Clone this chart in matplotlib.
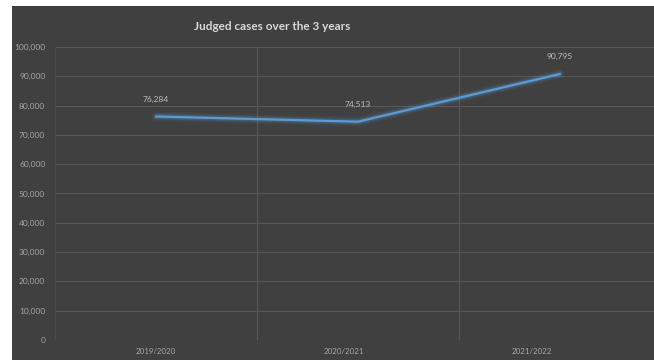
import matplotlib.pyplot as plt
from matplotlib.patches import Rectangle

years = ["2019/2020", "2020/2021", "2021/2022"]
cases = [76284, 74513, 90795]
yticks = list(range(0, 100001, 10000))

bg = "#404040"
grid = "#585858"
txt = "#BFBFBF"

W, H = 654, 360
fig = plt.figure(figsize=(W / 100, H / 100), dpi=100)
fig.patch.set_facecolor("white")
fig.patches.append(Rectangle((12 / W, 0), 1, 1 - 6 / H, transform=fig.transFigure,
                             facecolor=bg, edgecolor="none", zorder=0))

plt.rcParams['font.family'] = ['Lato', 'DejaVu Sans']

# plot area runs past the right edge of the picture (cropped original)
left, right, top, bottom = 55, 661, 47, 340
ax = fig.add_axes([left / W, 1 - bottom / H, (right - left) / W, (bottom - top) / H])
ax.set_facecolor(bg)
ax.set_zorder(1)

xs = list(range(len(years)))
# soft glow under the line
for lw, a in [(7, 0.06), (5, 0.10), (3.5, 0.18)]:
    ax.plot(xs, cases, color="#5B9BD5", lw=lw, alpha=a, solid_capstyle="round", zorder=3)
ax.plot(xs, cases, color="#5B9BD5", lw=1.6, solid_capstyle="round", zorder=4)

for x, v in zip(xs, cases):
    ax.annotate("{:,}".format(v), (x, v), xytext=(0, 10), textcoords="offset points",
                ha="center", va="bottom", fontsize=6, color=txt)

ax.set_xlim(-0.5, 2.5)
ax.set_ylim(0, 100000)
ax.set_yticks(yticks)
ax.set_yticklabels(["{:,}".format(t) for t in yticks], fontsize=6, color="#A6A6A6")
ax.set_xticks([i * 0.93 for i in xs])
ax.set_xticklabels(years, fontsize=5.7, color="#A6A6A6")
ax.tick_params(length=0, pad=7)
ax.tick_params(axis="x", pad=6)

ax.grid(axis="y", color=grid, lw=0.8)
for b in [0.5, 1.5]:
    ax.axvline(b, color=grid, lw=0.8, zorder=1)
for s in ax.spines.values():
    s.set_visible(False)
ax.axvline(-0.5, color="#4a4a4a", lw=0.8, zorder=1)
ax.set_axisbelow(True)

fig.text(272 / W, 1 - 26 / H, "Judged cases over the 3 years", ha="center", va="center",
         fontsize=8.5, color="#D9D9D9", fontweight="bold")

fig.savefig("out.png", dpi=100, facecolor=fig.get_facecolor())
